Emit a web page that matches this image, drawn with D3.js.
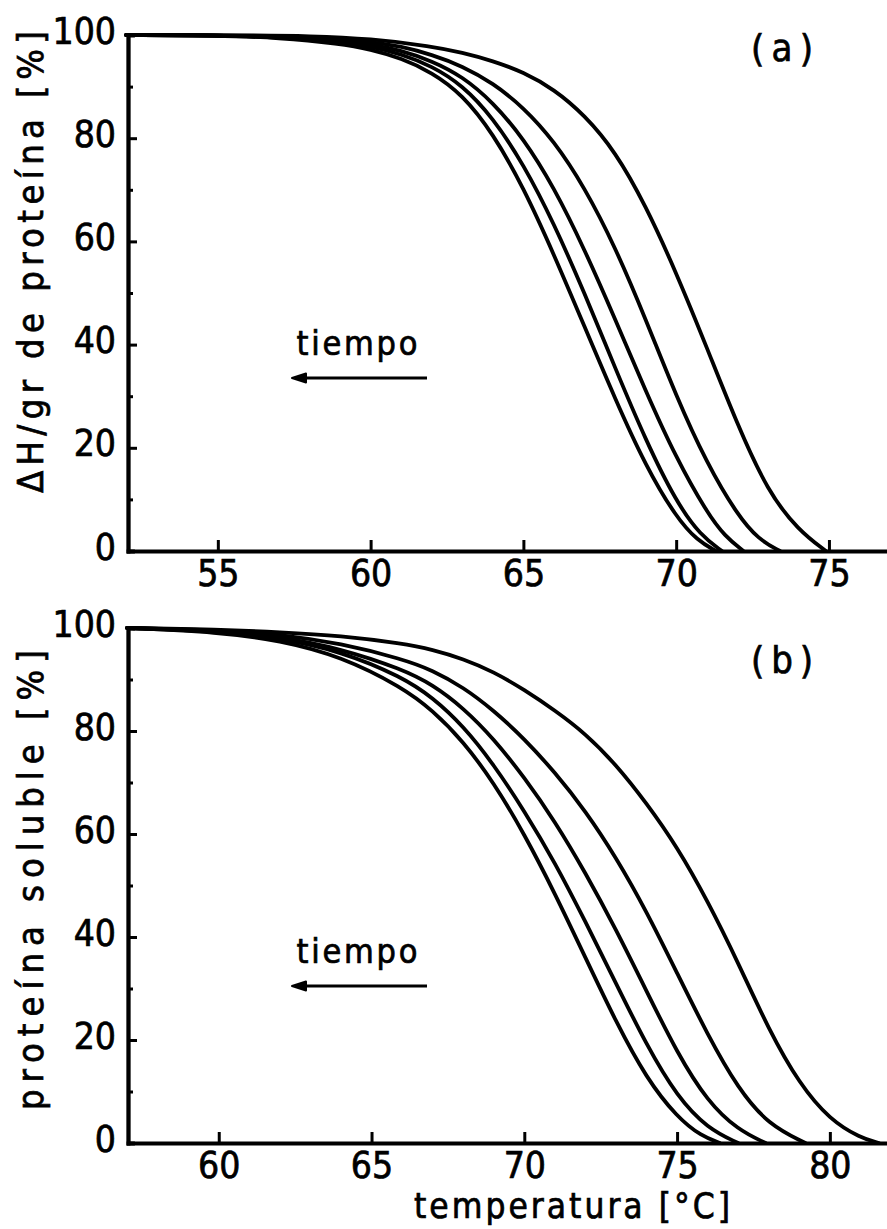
<!DOCTYPE html>
<html>
<head>
<meta charset="utf-8">
<script src="https://cdn.jsdelivr.net/npm/d3@7"></script>
<style>
  body { margin: 0; background: #fff; }
  svg { display: block; }
  text { font-family: 'DejaVu Sans Condensed', 'DejaVu Sans', sans-serif; fill: #000; stroke: #000; stroke-width: 0.7px; }
</style>
</head>
<body>
<svg id="svg_chart" width="887" height="1229"></svg>
<script>
// panel (a): ΔH / gr de proteína vs temperatura, five curves (time arrow to the left)
const dhCurve1 = [[52, 100], [55, 99.9], [57, 99.5], [59, 98.3], [60, 97.2], [61, 95.5], [62, 92.8], [63, 88.5], [64, 81], [65, 70.5], [66, 57.5], [67, 43.5], [68, 29.5], [69, 16.5], [70, 6.5], [70.7, 2], [71.3, 0]];
const dhCurve2 = [[52, 100], [55, 99.9], [57, 99.6], [59, 98.6], [60, 97.8], [61, 96.3], [62, 94], [63, 90.3], [64, 84], [65, 75], [66, 63.5], [67, 50], [68, 35.5], [69, 21.5], [70, 9.5], [70.8, 3], [71.5, 0]];
const dhCurve3 = [[52, 100], [55, 99.9], [57, 99.7], [59, 98.9], [60, 98.2], [61, 97], [62, 95], [63, 92], [64, 87], [65, 80], [66, 70.5], [67, 58.5], [68, 45], [69, 31], [70, 18], [71, 7.5], [71.6, 2.8], [72.2, 0]];
const dhCurve4 = [[52, 100], [55, 99.95], [57, 99.8], [59, 99.2], [60, 98.7], [61, 97.8], [62, 96.2], [63, 94], [64, 90.7], [65, 86], [66, 79.5], [67, 70.5], [68, 59], [69, 45], [70, 30], [71, 17], [72, 7], [72.7, 2.2], [73.4, 0]];
const dhCurve5 = [[52, 100], [56, 99.95], [58, 99.8], [60, 99.3], [62, 97.8], [63, 96.6], [64, 95], [65, 92.8], [66, 89.5], [67, 84.5], [68, 77.5], [69, 67], [70, 54], [71, 39.5], [72, 24.5], [73, 11.5], [74, 4], [74.9, 0]];

// panel (b): proteína soluble vs temperatura
const solCurve1 = [[57, 100], [60, 99.2], [62, 97.6], [64, 94.5], [66, 88.5], [67, 84], [68, 78], [69, 70], [70, 60], [71, 48.5], [72, 36], [73, 23.5], [74, 12.5], [75, 5], [75.8, 1.3], [76.4, 0]];
const solCurve2 = [[57, 100], [60, 99.4], [62, 98], [64, 95.5], [66, 90.5], [67, 86.5], [68, 81], [69, 73.5], [70, 64.5], [71, 54.5], [72, 43], [73, 31], [74, 19], [75, 9], [76, 2.8], [77, 0]];
const solCurve3 = [[57, 100], [60, 99.5], [62, 98.3], [64, 96], [66, 92], [67, 89], [68, 84.5], [69, 78.5], [70, 71], [71, 62.5], [72, 52.5], [73, 41.5], [74, 29.5], [75, 17.5], [76, 8], [77, 2.5], [77.9, 0]];
const solCurve4 = [[57, 100], [60, 99.6], [62, 98.8], [64, 97], [66, 94], [67, 91.8], [68, 88.5], [69, 84], [70, 78.5], [71, 72], [72, 64.5], [73, 55.5], [74, 45], [75, 33], [76, 21], [77, 10.5], [78, 3.5], [79.2, 0]];
const solCurve5 = [[57, 100], [60, 99.7], [62, 99.2], [64, 98.5], [66, 97], [67, 95.8], [68, 94], [69, 91.5], [70, 88], [71, 84], [72, 79.5], [73, 73.5], [74, 66], [75, 57.5], [76, 47], [77, 35], [78, 22], [79, 11.5], [80, 4.5], [81, 1], [81.6, 0]];

const xTicksA = [55, 60, 65, 70, 75];
const xTicksB = [60, 65, 70, 75, 80];
const yTicks = [0, 20, 40, 60, 80, 100];
const yMinorTicks = [10, 30, 50, 70, 90];

const svg = d3.select('svg#svg_chart');
const lw = 3.8;
const tickFont = '37px';

const panels = [
  {
    curves: [dhCurve1, dhCurve2, dhCurve3, dhCurve4, dhCurve5],
    x: d3.scaleLinear().domain([52.06, 76.9]).range([128, 887]),
    y: d3.scaleLinear().domain([0, 100]).range([551, 35]),
    xTicks: xTicksA,
    ylabel: 'ΔH/gr de proteína [%]',
    ylabelPos: [43, 262], ylabelLen: 462,
    tag: '(a)', tagPos: [782, 61],
    arrow: { text: [357, 355], from: 427, to: 292, y: 378 },
  },
  {
    curves: [solCurve1, solCurve2, solCurve3, solCurve4, solCurve5],
    x: d3.scaleLinear().domain([57.03, 81.87]).range([128, 887]),
    y: d3.scaleLinear().domain([0, 100]).range([1143, 628]),
    xTicks: xTicksB,
    ylabel: 'proteína soluble [%]',
    ylabelPos: [43, 880], ylabelLen: 460,
    tag: '(b)', tagPos: [782, 673],
    arrow: { text: [357, 963], from: 427, to: 292, y: 986 },
  },
];

function styleAxis(g) {
  g.select('.domain')
    .attr('stroke', '#000')
    .attr('stroke-width', lw)
    .attr('stroke-linecap', 'square');
  g.selectAll('.tick line')
    .attr('stroke', '#000')
    .attr('stroke-width', 3);
  g.selectAll('.tick text')
    .style('font-size', tickFont)
    .attr('fill', '#000');
}

panels.forEach((p) => {
  const g = svg.append('g');
  const x0 = p.x.range()[0];
  const y0 = p.y.range()[0];

  // minor y ticks (no labels)
  g.append('g')
    .attr('transform', `translate(${x0},0)`)
    .call(d3.axisLeft(p.y).tickValues(yMinorTicks).tickSize(-5).tickFormat(''))
    .call(styleAxis);

  g.append('g')
    .attr('transform', `translate(${x0},0)`)
    .call(d3.axisLeft(p.y).tickValues(yTicks).tickSizeInner(-9).tickSizeOuter(0).tickPadding(12))
    .call(styleAxis)
    .selectAll('.tick text')
    .attr('dy', '0.22em');

  g.append('g')
    .attr('transform', `translate(0,${y0})`)
    .call(d3.axisBottom(p.x).tickValues(p.xTicks).tickSizeInner(-11).tickSizeOuter(0).tickPadding(9))
    .call(styleAxis);

  const line = d3.line()
    .x(d => p.x(d[0]))
    .y(d => p.y(d[1]))
    .curve(d3.curveBasis);

  g.append('g')
    .selectAll('path')
    .data(p.curves)
    .enter()
    .append('path')
    .attr('d', line)
    .attr('fill', 'none')
    .attr('stroke', '#000')
    .attr('stroke-width', lw)
    .attr('stroke-linejoin', 'round')
    .attr('stroke-linecap', 'round');

  g.append('text')
    .attr('transform', `translate(${p.ylabelPos}) rotate(-90)`)
    .attr('text-anchor', 'middle')
    .attr('textLength', p.ylabelLen)
    .attr('lengthAdjust', 'spacing')
    .style('font-size', '36px')
    .text(p.ylabel);

  g.append('text')
    .attr('x', p.tagPos[0])
    .attr('y', p.tagPos[1])
    .attr('text-anchor', 'middle')
    .attr('textLength', 62)
    .attr('lengthAdjust', 'spacing')
    .style('font-size', '38px')
    .text(p.tag);

  g.append('text')
    .attr('x', p.arrow.text[0])
    .attr('y', p.arrow.text[1])
    .attr('text-anchor', 'middle')
    .attr('textLength', 121)
    .attr('lengthAdjust', 'spacing')
    .style('font-size', '34px')
    .text('tiempo');

  g.append('line')
    .attr('x1', p.arrow.from).attr('x2', p.arrow.to + 6)
    .attr('y1', p.arrow.y).attr('y2', p.arrow.y)
    .attr('stroke', '#000')
    .attr('stroke-width', 3);

  const ax = p.arrow.to;
  const ay = p.arrow.y;
  g.append('path')
    .attr('d', `M${ax},${ay} L${ax + 14},${ay - 4.5} L${ax + 14},${ay + 4.5} Z`)
    .attr('fill', '#000')
    .attr('stroke', '#000')
    .attr('stroke-width', 2)
    .attr('stroke-linejoin', 'round');
});

svg.append('text')
  .attr('x', 572)
  .attr('y', 1218)
  .attr('text-anchor', 'middle')
  .attr('textLength', 316)
  .attr('lengthAdjust', 'spacing')
  .style('font-size', '35px')
  .text('temperatura [°C]');
</script>
</body>
</html>
